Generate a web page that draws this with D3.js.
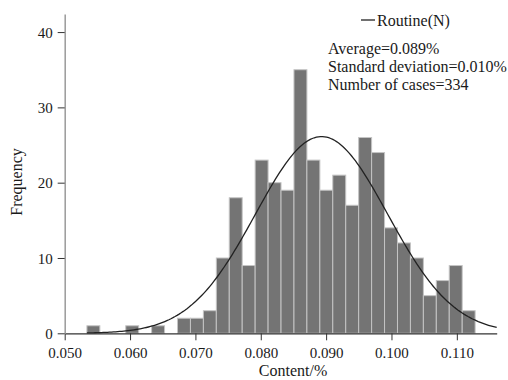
<!DOCTYPE html>
<html>
<head>
<meta charset="utf-8">
<script src="https://cdn.jsdelivr.net/npm/d3@7"></script>
<style>
  html, body { margin: 0; padding: 0; background: #fff; }
  svg text { font-family: "Liberation Serif", "Times New Roman", serif !important; fill: #1a1a1a; }
</style>
</head>
<body>
<div id="chart"></div>
<script>
// histogram bins (lower/upper edges) and counts
const binEdges = [0.05340, 0.05538, 0.05736, 0.05934, 0.06132, 0.06330, 0.06528, 0.06726,
  0.06924, 0.07122, 0.07320, 0.07518, 0.07716, 0.07914, 0.08112, 0.08310, 0.08508,
  0.08706, 0.08904, 0.09102, 0.09300, 0.09498, 0.09696, 0.09894, 0.10092, 0.10290,
  0.10488, 0.10686, 0.10884, 0.11082, 0.11280];
const counts = [1, 0, 0, 1, 0, 1, 0, 2, 2, 3, 10, 18, 9, 23, 20, 19, 35, 23, 19, 21,
  17, 26, 24, 14, 12, 10, 5, 7, 9, 3];

const xTicks = [0.050, 0.060, 0.070, 0.080, 0.090, 0.100, 0.110];
const yTicks = [0, 10, 20, 30, 40];

// fitted normal curve parameters
const mean = 0.0893;
const stdDev = 0.0101;
const nCases = 334;

const width = 508;
const height = 380;
const serif = '"Liberation Serif", "Times New Roman", serif';

const svg = d3.select('#chart').append('svg')
  .attr('width', width)
  .attr('height', height);

const x = d3.scaleLinear().domain([0.050, 0.1161]).range([64.7, 496.7]);
const y = d3.scaleLinear().domain([0, 42.4]).range([333.3, 14]);

// bars
const bins = counts.map((c, i) => ({x0: binEdges[i], x1: binEdges[i + 1], count: c}));
svg.selectAll('.bar')
  .data(bins.filter(d => d.count > 0))
  .enter().append('rect')
  .attr('class', 'bar')
  .attr('x', d => x(d.x0))
  .attr('width', d => x(d.x1) - x(d.x0))
  .attr('y', d => y(d.count))
  .attr('height', d => y(0) - y(d.count))
  .attr('fill', '#747474')
  .attr('stroke', '#c4c4c4')
  .attr('stroke-width', 1);

// normal curve scaled to counts
const binWidth = binEdges[1] - binEdges[0];
const normal = v => nCases * binWidth / (stdDev * Math.sqrt(2 * Math.PI)) *
  Math.exp(-0.5 * Math.pow((v - mean) / stdDev, 2));
const curveStart = binEdges[0];
const curveEnd = x.domain()[1];
const curveX = d3.range(0, 201).map(i => curveStart + (curveEnd - curveStart) * i / 200);
svg.append('path')
  .datum(curveX)
  .attr('fill', 'none')
  .attr('stroke', '#222')
  .attr('stroke-width', 1.3)
  .attr('d', d3.line().x(d => x(d)).y(d => y(normal(d))));

// axes
const xAxis = svg.append('g')
  .attr('transform', `translate(0,${y(0)})`)
  .call(d3.axisBottom(x).tickValues(xTicks).tickFormat(d3.format('.3f')).tickSize(7).tickSizeOuter(0));
xAxis.attr('font-family', serif);
xAxis.select('.domain').attr('stroke', '#333').attr('stroke-width', 1.2);
xAxis.selectAll('.tick line').attr('stroke', '#333');
xAxis.selectAll('text').style('font-family', serif).style('font-size', '15px').attr('dy', '1.0em');

const yAxis = svg.append('g')
  .attr('transform', `translate(${x(0.050)},0)`)
  .call(d3.axisLeft(y).tickValues(yTicks).tickSize(7).tickSizeOuter(0));
yAxis.attr('font-family', serif);
yAxis.select('.domain').attr('stroke', '#9a9a9a').attr('stroke-width', 1.5);
yAxis.selectAll('.tick line').attr('stroke', '#333');
yAxis.selectAll('text').style('font-family', serif).style('font-size', '15px').attr('x', -12).attr('dy', '0.35em');

// axis titles
svg.append('text')
  .attr('x', 293)
  .attr('y', 376)
  .attr('text-anchor', 'middle')
  .style('font-size', '16px')
  .text('Content/%');

svg.append('text')
  .attr('transform', 'translate(22,182) rotate(-90)')
  .attr('text-anchor', 'middle')
  .style('font-size', '16px')
  .text('Frequency');

// legend
svg.append('line')
  .attr('x1', 361).attr('x2', 375)
  .attr('y1', 20).attr('y2', 20)
  .attr('stroke', '#222')
  .attr('stroke-width', 1.3);
svg.append('text')
  .attr('x', 377)
  .attr('y', 26)
  .style('font-size', '16px')
  .text('Routine(N)');

const statLines = [
  `Average=${mean.toFixed(3)}%`,
  `Standard deviation=${stdDev.toFixed(3)}%`,
  `Number of cases=${nCases}`
];
svg.selectAll('.stat')
  .data(statLines)
  .enter().append('text')
  .attr('class', 'stat')
  .attr('x', 328)
  .attr('y', (d, i) => 54 + i * 17.8)
  .style('font-size', '16px')
  .text(d => d);
</script>
</body>
</html>
